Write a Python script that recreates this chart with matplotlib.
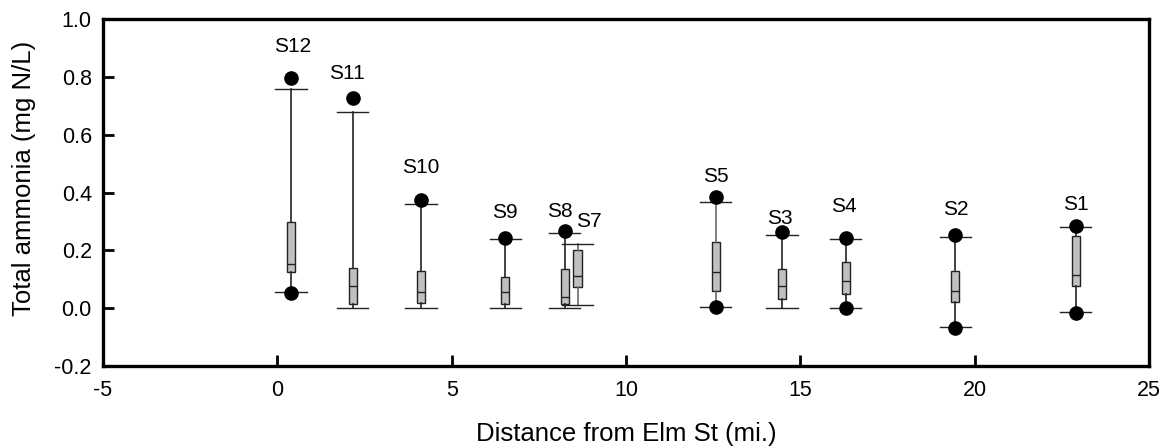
import matplotlib
matplotlib.use("Agg")
import matplotlib.pyplot as plt

plt.rcParams['font.family'] = ['Liberation Sans', 'DejaVu Sans']
plt.rcParams['axes.unicode_minus'] = False

# station data
sites = ['S12', 'S11', 'S10', 'S9', 'S8', 'S7', 'S5', 'S3', 'S4', 'S2', 'S1']
distance = [0.39, 2.16, 4.12, 6.54, 8.24, 8.61, 12.57, 14.48, 16.30, 19.45, 22.90]
whisker_lo = [0.055, 0.0, 0.0, 0.0, 0.0, 0.010, 0.005, 0.0, 0.001, -0.065, -0.013]
q1 = [0.125, 0.014, 0.017, 0.014, 0.014, 0.073, 0.060, 0.031, 0.048, 0.022, 0.076]
median = [0.152, 0.076, 0.055, 0.055, 0.039, 0.111, 0.125, 0.076, 0.094, 0.060, 0.114]
q3 = [0.298, 0.138, 0.128, 0.107, 0.135, 0.200, 0.229, 0.135, 0.159, 0.129, 0.250]
whisker_hi = [0.758, 0.678, 0.360, 0.239, 0.260, 0.221, 0.367, 0.254, 0.238, 0.245, 0.279]
outliers = [[0.796, 0.052], [0.727], [0.374], [0.243], [0.266], [],
            [0.385, 0.003], [0.264], [0.243, 0.0], [0.253, -0.070], [0.284, -0.018]]
# label positions (x, y) in data units
label_xy = [(0.45, 0.905), (2.0, 0.81), (4.12, 0.485), (6.54, 0.33), (8.1, 0.335),
            (8.95, 0.30), (12.57, 0.455), (14.4, 0.31), (16.25, 0.35), (19.45, 0.34), (22.9, 0.36)]

fig = plt.figure(figsize=(11.66, 4.48), dpi=100)
ax = fig.add_axes([0.0883, 0.183, 0.8971, 0.7746])

stats = []
for i in range(len(sites)):
    stats.append({'med': median[i], 'q1': q1[i], 'q3': q3[i],
                  'whislo': whisker_lo[i], 'whishi': whisker_hi[i],
                  'fliers': outliers[i], 'label': sites[i]})

light = {'S7', 'S5'}
for i, s in enumerate(stats):
    wc = '#6a6a6a' if sites[i] in light else '#222222'
    ax.bxp([s], positions=[distance[i]], widths=0.23, capwidths=0.9,
           patch_artist=True, manage_ticks=False,
           boxprops=dict(facecolor='#c0c0c0', edgecolor='#222222', linewidth=1),
           medianprops=dict(color='#222222', linewidth=1),
           whiskerprops=dict(color=wc, linewidth=1.2),
           capprops=dict(color='#222222', linewidth=1),
           flierprops=dict(marker='o', markerfacecolor='black', markeredgecolor='black',
                           markersize=9.5, linestyle='none'),
           zorder=3)

for name, (lx, ly) in zip(sites, label_xy):
    ax.text(lx, ly, name, ha='center', va='center', fontsize=15)

ax.set_xlim(-5, 25)
ax.set_ylim(-0.2, 1.0)
ax.set_xticks([-5, 0, 5, 10, 15, 20, 25])
ax.set_yticks([-0.2, 0.0, 0.2, 0.4, 0.6, 0.8, 1.0])
ax.set_yticklabels(['-0.2', '0.0', '0.2', '0.4', '0.6', '0.8', '1.0'])
ax.tick_params(direction='in', length=8, width=2, labelsize=15.5)
ax.tick_params(axis='x', pad=10)
ax.tick_params(axis='y', pad=8)
for spine in ax.spines.values():
    spine.set_linewidth(2.4)

ax.set_xlabel('Distance from Elm St (mi.)', fontsize=18.5, labelpad=15)
ax.set_ylabel('Total ammonia (mg N/L)', fontsize=18.5)
ax.yaxis.set_label_coords(-0.064, 0.54)

fig.savefig('out.png', dpi=100)
